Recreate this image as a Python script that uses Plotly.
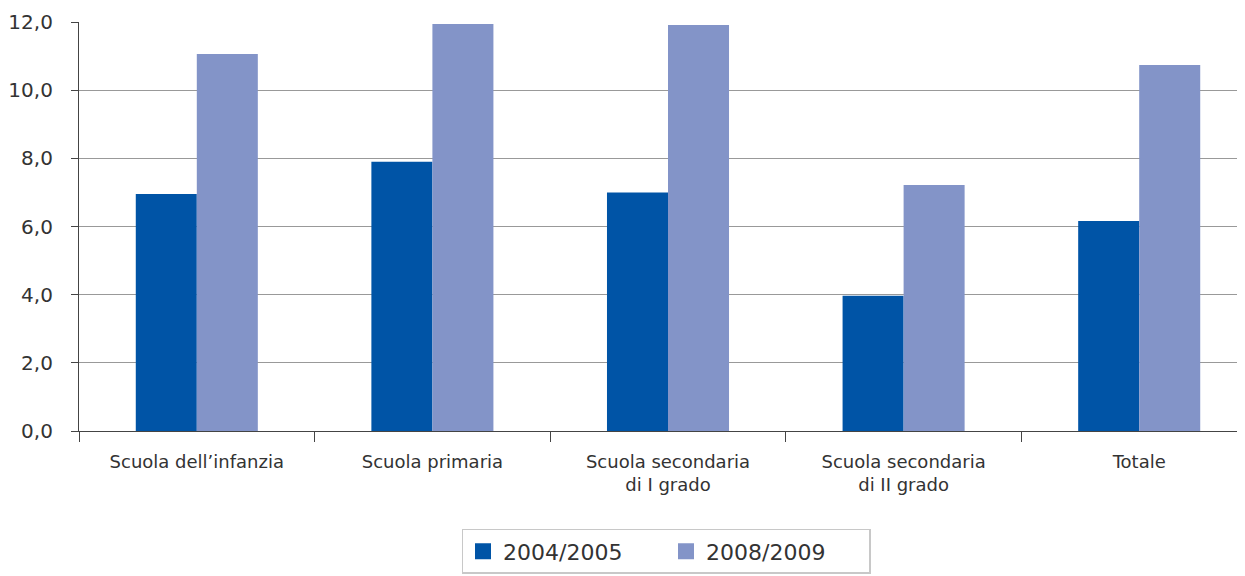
import plotly.graph_objects as go

categories = ["Scuola dell\u2019infanzia", "Scuola primaria", "Scuola secondaria<br>di I grado",
              "Scuola secondaria<br>di II grado", "Totale"]
series_names = ["2004/2005", "2008/2009"]
values_2004 = [6.95, 7.9, 7.0, 3.97, 6.16]
values_2008 = [11.06, 11.94, 11.91, 7.22, 10.74]
colors = ["#0054A6", "#8394C8"]

fig = go.Figure()
for name, vals, col in zip(series_names, [values_2004, values_2008], colors):
    fig.add_trace(go.Bar(x=categories, y=vals, name=name, marker_color=col,
                         marker_line_width=0, showlegend=False))
# legend proxies with larger square symbols
for name, col in zip(series_names, colors):
    fig.add_trace(go.Scatter(x=[None], y=[None], mode="markers", name=name,
                             marker=dict(symbol="square", size=18, color=col)))

fig.update_layout(
    width=1245, height=576,
    margin=dict(l=71, r=0, t=14, b=153, autoexpand=False),
    plot_bgcolor="white", paper_bgcolor="white",
    barmode="group", bargap=0.482, bargroupgap=0,
    separators=",.",
    font=dict(family="DejaVu Sans", color="#333333"),
    legend=dict(orientation="h", x=0.5, xanchor="center",
                yref="container", y=0.0955, yanchor="top",
                bordercolor="#c8c8c8", borderwidth=1.5,
                font=dict(size=22, color="#333333"),
                itemsizing="trace", entrywidth=158, itemwidth=30),
)
fig.update_xaxes(
    range=[-0.5, 4.483], showline=True, linecolor="#444444", linewidth=1.2,
    tickson="boundaries", ticks="outside", ticklen=10, tickcolor="#444444", tickwidth=1.2,
    tickfont=dict(size=18, color="#333333"), showgrid=False, automargin=False,
    ticklabelstandoff=14,
)
fig.update_yaxes(
    range=[0, 12], dtick=2, tickformat=".1f", showline=True, linecolor="#444444", linewidth=1.2,
    ticks="outside", ticklen=7, tickcolor="#444444", tickwidth=1.2,
    showgrid=True, gridcolor="#999999", gridwidth=1.2, zeroline=False,
    tickfont=dict(size=20, color="#333333"), automargin=False, ticklabelstandoff=14,
)

fig.write_html("out.html")
